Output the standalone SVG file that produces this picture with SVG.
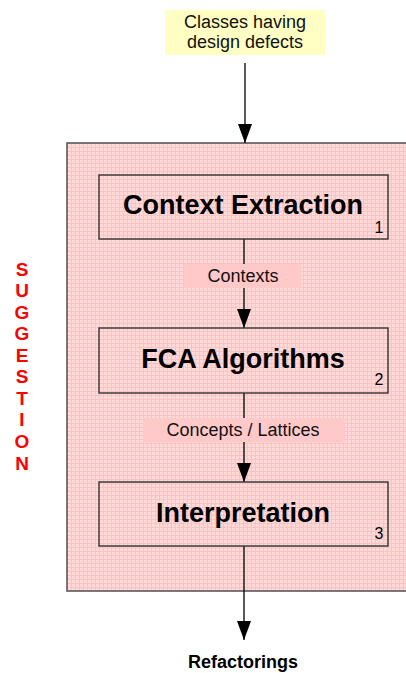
<svg xmlns="http://www.w3.org/2000/svg" width="406" height="673" viewBox="0 0 406 673">
  <defs>
    <pattern id="grid" x="67" y="143" width="4" height="4" patternUnits="userSpaceOnUse">
      <rect width="4" height="4" fill="#ffd8d8"/>
      <path d="M0 0.5H4M0.5 0V4" stroke="#f7c4c4" stroke-width="1"/>
    </pattern>
    <marker id="arrow" viewBox="0 0 19 14" refX="19" refY="7" markerWidth="19" markerHeight="14" markerUnits="userSpaceOnUse" orient="auto">
      <path d="M0 0L19 7L0 14Z" fill="#000"/>
    </marker>
  </defs>
  <style>
    .sans { font-family: "Liberation Sans", Arial, sans-serif; }
    .step { fill: none; stroke: #333; stroke-width: 1.4; }
    .title { font-size: 27px; font-weight: bold; text-anchor: middle; fill: #000; }
    .num { font-size: 16px; text-anchor: middle; fill: #000; }
    .flow { font-size: 18px; text-anchor: middle; fill: #111; }
    .edge { stroke: #000; stroke-width: 1.3; fill: none; }
    .side { font-size: 19px; font-weight: bold; fill: #ff0000; text-anchor: middle; }
  </style>

  <!-- suggestion phase container -->
  <g id="suggestion">
    <rect x="67" y="143" width="345" height="448" fill="url(#grid)" stroke="#5a5a5a" stroke-width="1.6"/>
    <g class="sans side">
      <text x="22" y="276">S</text>
      <text x="22" y="297">U</text>
      <text x="22" y="319">G</text>
      <text x="22" y="340">G</text>
      <text x="22" y="362">E</text>
      <text x="22" y="383">S</text>
      <text x="22" y="405">T</text>
      <text x="22" y="426">I</text>
      <text x="22" y="448">O</text>
      <text x="22" y="470">N</text>
    </g>
  </g>

  <!-- input -->
  <g id="input">
    <rect x="165" y="10" width="160" height="45" fill="#ffffc4"/>
    <text class="sans flow" x="245" y="28" font-size="19">Classes having</text>
    <text class="sans flow" x="245" y="48" font-size="19">design defects</text>
  </g>

  <!-- connectors -->
  <g id="connectors">
    <path class="edge" d="M245 63V143" marker-end="url(#arrow)"/>
    <path class="edge" d="M244 239V328" marker-end="url(#arrow)"/>
    <path class="edge" d="M244 393V482" marker-end="url(#arrow)"/>
    <path class="edge" d="M244 546V640" marker-end="url(#arrow)"/>
    <g id="label-contexts">
      <rect x="184" y="264" width="117" height="24" fill="#ffc9c9"/>
      <text class="sans flow" x="243" y="282">Contexts</text>
    </g>
    <g id="label-concepts">
      <rect x="143" y="418" width="202" height="24" fill="#ffc9c9"/>
      <text class="sans flow" x="243" y="436">Concepts / Lattices</text>
    </g>
  </g>

  <!-- step 1 -->
  <g id="context-extraction">
    <rect class="step" x="99" y="175" width="289" height="64"/>
    <text class="sans title" x="243" y="214">Context Extraction</text>
    <text class="sans num" x="379" y="233">1</text>
  </g>

  <!-- step 2 -->
  <g id="fca-algorithms">
    <rect class="step" x="99" y="328" width="289" height="65"/>
    <text class="sans title" x="243" y="368">FCA Algorithms</text>
    <text class="sans num" x="379" y="385">2</text>
  </g>

  <!-- step 3 -->
  <g id="interpretation">
    <rect class="step" x="99" y="482" width="289" height="64"/>
    <text class="sans title" x="243" y="522">Interpretation</text>
    <text class="sans num" x="379" y="539">3</text>
  </g>

  <!-- output -->
  <g id="output">
    <text class="sans" x="243" y="668" font-size="18" font-weight="bold" text-anchor="middle">Refactorings</text>
  </g>
</svg>
